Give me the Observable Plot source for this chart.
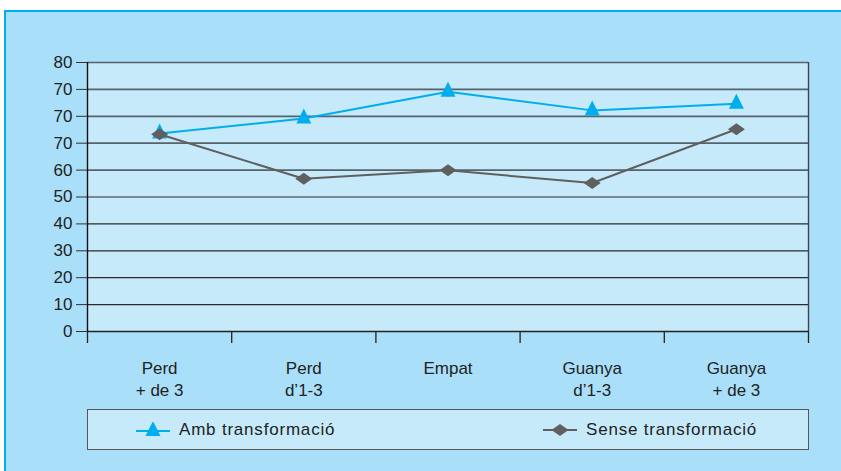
<!DOCTYPE html>
<html><head><meta charset="utf-8">
<script src="https://cdn.jsdelivr.net/npm/d3@7"></script>
<script src="https://cdn.jsdelivr.net/npm/@observablehq/plot@0.6"></script>
<style>
body{margin:0;background:#fff;}
#wrap{position:relative;width:841px;height:471px;overflow:hidden;font-family:"Liberation Sans",Arial,sans-serif;}
#bg{position:absolute;left:4px;top:10px;right:-10px;bottom:-10px;background:#aadff9;border-top:2px solid #00aeef;border-left:2px solid #00aeef;}
#chart{position:absolute;left:0;top:0;}
#legend{position:absolute;left:87px;top:409px;width:722px;height:41px;box-sizing:border-box;border:1.5px solid #555;background:#c6eafa;}
.item{position:absolute;top:0;height:100%;display:flex;align-items:center;font-size:17px;color:#222;letter-spacing:0.8px;}
.item svg{margin-right:9px;}
</style>
</head><body>
<div id="wrap"><div id="bg"></div><div id="chart"></div><div id="legend"></div></div>
<script>
const categories = ["Perd\n+ de 3", "Perd\nd’1-3", "Empat", "Guanya\nd’1-3", "Guanya\n+ de 3"];
const seriesNames = ["Amb transformació", "Sense transformació"];
const ambValues = [73.6, 79.2, 89.1, 82.2, 84.7];
const senseValues = [73.3, 56.8, 59.9, 55.2, 75.2];
const yTickLabels = ["0", "10", "20", "30", "40", "50", "60", "70", "70", "70", "80"];

const colAmb = "#00aeef", colSense = "#5f5f5f";
const idx = d3.range(categories.length);
const yTicks = yTickLabels.map((_, i) => i * 10);
const amb = idx.map(i => ({x: i + 0.5, y: ambValues[i]}));
const sense = idx.map(i => ({x: i + 0.5, y: senseValues[i]}));

const triSym = {draw(ctx) { ctx.moveTo(0, -10); ctx.lineTo(7.5, 5); ctx.lineTo(-7.5, 5); ctx.closePath(); }};
const diaSym = {draw(ctx) { ctx.moveTo(0, -6); ctx.lineTo(8.5, 0); ctx.lineTo(0, 6); ctx.lineTo(-8.5, 0); ctx.closePath(); }};

const chart = Plot.plot({
  width: 841, height: 400,
  marginLeft: 87, marginRight: 33, marginTop: 62, marginBottom: 69,
  style: {background: "transparent", fontFamily: "'Liberation Sans', Arial, sans-serif", fontSize: "17px", color: "#222", overflow: "visible"},
  x: {type: "linear", domain: [0, categories.length], axis: null},
  y: {domain: [0, 100], axis: null},
  marks: [
    Plot.frame({fill: "#c6eafa", stroke: "none"}),
    Plot.ruleY(yTicks.filter(d => d < 60 && d > 0), {stroke: "#2b2b2b", strokeWidth: 1.2}),
    Plot.ruleY(yTicks.filter(d => d >= 60), {stroke: "#56626c", strokeWidth: 1.7}),
    Plot.ruleY([0], {stroke: "#222", strokeWidth: 1.4}),
    Plot.axisY({ticks: yTicks, tickSize: 11, tickPadding: 4, stroke: "#333", fill: "#222", fontSize: 17, label: null,
      tickFormat: d => yTickLabels[Math.round(d / 10)]}),
    Plot.ruleX([0], {stroke: "#111", strokeWidth: 1.4}),
    Plot.ruleX([categories.length], {stroke: "#444", strokeWidth: 1.4}),
    Plot.axisX({ticks: d3.range(categories.length + 1), tickSize: 12, tickFormat: () => "", label: null, stroke: "#222", strokeWidth: 1.3}),
    Plot.text(idx, {x: i => i + 0.5, text: i => categories[i], frameAnchor: "bottom", lineAnchor: "top",
      dy: 27, lineHeight: 1.28, fontSize: 17, fill: "#222", letterSpacing: "0.8px"}),
    Plot.line(amb, {x: "x", y: "y", stroke: colAmb, strokeWidth: 2}),
    Plot.dot(amb, {x: "x", y: "y", symbol: triSym, fill: colAmb, stroke: "none"}),
    Plot.line(sense, {x: "x", y: "y", stroke: colSense, strokeWidth: 2}),
    Plot.dot(sense, {x: "x", y: "y", symbol: diaSym, fill: colSense, stroke: "none"})
  ]
});
document.getElementById("chart").appendChild(chart);

const legend = document.getElementById("legend");
const icons = [
  `<svg width="34" height="16"><line x1="0" x2="34" y1="9" y2="9" stroke="${colAmb}" stroke-width="2"/><path d="M17,-1L24.5,14L9.5,14Z" fill="${colAmb}"/></svg>`,
  `<svg width="34" height="16"><line x1="0" x2="34" y1="8" y2="8" stroke="${colSense}" stroke-width="2"/><path d="M17,2L25.5,8L17,14L8.5,8Z" fill="${colSense}"/></svg>`
];
const lefts = [48, 455];
seriesNames.forEach((name, k) => {
  const d = document.createElement("div");
  d.className = "item";
  d.style.left = lefts[k] + "px";
  d.innerHTML = icons[k] + `<span>${name}</span>`;
  legend.appendChild(d);
});
</script>
</body></html>
